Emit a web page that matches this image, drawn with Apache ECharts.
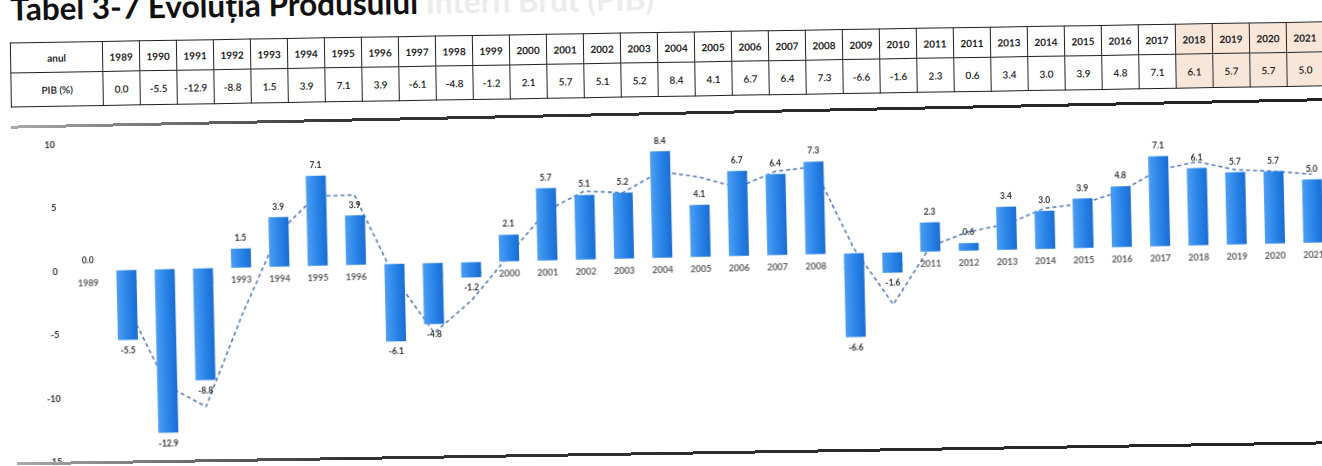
<!DOCTYPE html>
<html>
<head>
<meta charset="utf-8">
<script src="https://cdn.jsdelivr.net/npm/echarts@6/dist/echarts.min.js"></script>
<style>
  html, body { margin: 0; padding: 0; background: #fff; width: 1322px; height: 466px; overflow: hidden; }
  #page { position: absolute; left: 0; top: 0; width: 1322px; height: 466px;
          transform: rotate(-0.92deg); transform-origin: 661px 233px; }
  #title { position: absolute; left: 14px; top: -17px; font: bold 31.5px/1 Lato, sans-serif;
           color: #111; white-space: nowrap; }
  #title .faded { color: #ececec; }
  #tbl { position: absolute; left: 13px; top: 32px; width: 1313px; border-collapse: collapse; table-layout: fixed;
         font-family: Lato, sans-serif; font-weight: bold; font-size: 10px; color: #1e1e1e; }
  #tbl td { border: 1.6px solid #222; text-align: center; padding: 0; white-space: nowrap; overflow: hidden; }
  #tbl tr.r1 td { height: 29px; }
  #tbl tr.r2 td { height: 33px; font-weight: 600; }
  #tbl td.hl { background: #f8e6d8; }
  #chart { position: absolute; left: 0; top: 100px; width: 1340px; height: 366px;
           transform: rotate(-0.41deg); transform-origin: 661px 183px; }
  .frame { position: absolute; left: 13px; width: 1320px; height: 3px;
           background: linear-gradient(to right, #aaa 0%, #333 25%, #222 100%); }
</style>
</head>
<body>
<div id="page">
  <div id="title">Tabel 3-7 Evoluția Produsului <span class="faded">Intern Brut (PIB)</span></div>
  <table id="tbl"></table>
  <div id="chart"></div>
  <div class="frame" style="top:112px; transform: rotate(-0.28deg); transform-origin: 661px 1px;"></div>
  <div class="frame" style="top:452px"></div>
</div>
<script>
// Years on the chart's category axis
const years = ['1989','1990','1991','1992','1993','1994','1995','1996','1997','1998','1999','2000',
  '2001','2002','2003','2004','2005','2006','2007','2008','2009','2010','2011','2012','2013',
  '2014','2015','2016','2017','2018','2019','2020','2021'];

// Year headings as printed in the table
const tableYears = ['1989','1990','1991','1992','1993','1994','1995','1996','1997','1998','1999','2000',
  '2001','2002','2003','2004','2005','2006','2007','2008','2009','2010','2011','2011','2013',
  '2014','2015','2016','2017','2018','2019','2020','2021'];

// Annual GDP growth, %
const gdpGrowth = [0.0, -5.5, -12.9, -8.8, 1.5, 3.9, 7.1, 3.9, -6.1, -4.8, -1.2, 2.1,
  5.7, 5.1, 5.2, 8.4, 4.1, 6.7, 6.4, 7.3, -6.6, -1.6, 2.3, 0.6, 3.4,
  3.0, 3.9, 4.8, 7.1, 6.1, 5.7, 5.7, 5.0];

// Two-year moving-average trend line
const trend = [null, -2.8, -9.2, -10.9, -3.7, 2.7, 5.5, 5.5, -1.1, -5.5, -3.0, 0.5,
  3.9, 5.4, 5.2, 6.8, 6.3, 5.4, 6.6, 6.9, 0.4, -4.1, 0.4, 1.5, 2.0,
  3.2, 3.5, 4.4, 6.0, 6.6, 5.9, 5.7, 5.4];

// Years shaded in the table
const highlightedYears = ['2018', '2019', '2020', '2021'];

const rowLabels = ['anul', 'PIB (%)'];
const yTicks = { min: -15, max: 10, step: 5 };

// ---- table ----
(function buildTable() {
  const tbl = document.getElementById('tbl');
  const cg = document.createElement('colgroup');
  const c0 = document.createElement('col'); c0.style.width = '92px'; cg.appendChild(c0);
  tableYears.forEach(() => { const c = document.createElement('col'); c.style.width = '37px'; cg.appendChild(c); });
  tbl.appendChild(cg);
  const r1 = document.createElement('tr'); r1.className = 'r1';
  const r2 = document.createElement('tr'); r2.className = 'r2';
  const h1 = document.createElement('td'); h1.textContent = rowLabels[0]; r1.appendChild(h1);
  const h2 = document.createElement('td'); h2.textContent = rowLabels[1]; r2.appendChild(h2);
  tableYears.forEach((y, i) => {
    const a = document.createElement('td'); a.textContent = y;
    const b = document.createElement('td'); b.textContent = gdpGrowth[i].toFixed(1);
    if (highlightedYears.includes(years[i])) { a.className = 'hl'; b.className = 'hl'; }
    r1.appendChild(a); r2.appendChild(b);
  });
  tbl.appendChild(r1); tbl.appendChild(r2);
})();

// ---- chart ----
const chart = echarts.init(document.getElementById('chart'), null, { renderer: 'canvas' });
const barFill = new echarts.graphic.LinearGradient(0, 0, 1, 0, [
  { offset: 0, color: '#4d9ef2' },
  { offset: 0.5, color: '#2a85e8' },
  { offset: 1, color: '#1a6dd3' }
]);
const font = { fontFamily: 'Lato, sans-serif', fontWeight: 'bold', color: '#333' };

chart.setOption({
  animation: false,
  grid: { left: 68.5, top: 31, width: 1264, height: 317, containLabel: false },
  xAxis: {
    type: 'category',
    data: years,
    axisLine: { show: false },
    axisTick: { show: false },
    axisLabel: { show: false },
    splitLine: { show: false }
  },
  yAxis: {
    type: 'value',
    min: yTicks.min, max: yTicks.max, interval: yTicks.step,
    axisLine: { show: false },
    axisTick: { show: false },
    splitLine: { show: false },
    axisLabel: Object.assign({ margin: 11, align: 'right', fontSize: 9 }, font)
  },
  series: [
    {
      // trend line, drawn behind the bars
      type: 'line',
      z: 1,
      data: trend,
      symbol: 'none',
      lineStyle: { color: '#5a7db3', width: 1.6, type: [4, 3] }
    },
    {
      // year captions sitting on the zero line, under the bars
      type: 'scatter',
      z: 1,
      symbolSize: 0,
      silent: true,
      data: years.map(y => [y, 0]),
      label: Object.assign({
        show: true, position: 'bottom', distance: 8, fontSize: 9,
        formatter: p => p.value[0]
      }, font)
    },
    {
      type: 'bar',
      z: 2,
      barWidth: 20,
      data: gdpGrowth.map(v => ({
        value: v,
        label: { position: v < 0 ? 'bottom' : 'top' }
      })),
      itemStyle: { color: barFill },
      label: Object.assign({
        show: true,
        distance: 6,
        fontSize: 8.5,
        formatter: p => p.value.toFixed(1)
      }, font)
    }
  ]
});
</script>
</body>
</html>
